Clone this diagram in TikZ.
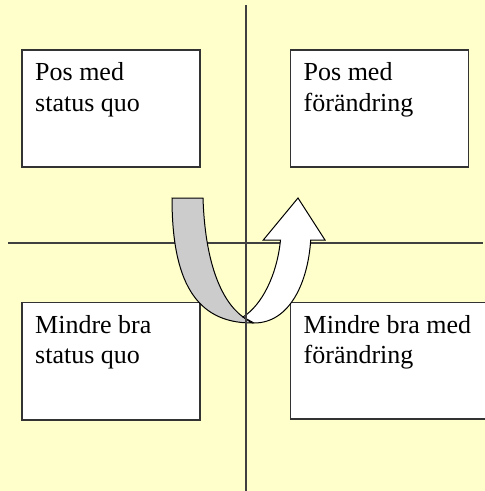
\documentclass[tikz,border=0pt]{standalone}
\usepackage{fontspec}
\setmainfont{Liberation Serif}
\begin{document}
\begin{tikzpicture}[x=1pt,y=-1pt,
  axis/.style={draw=black!75, line width=1.2pt},
  quad/.style={draw=black!80, fill=white, line width=1.2pt},
  lbl/.style={anchor=base west, inner sep=0pt, align=left, font=\rmfamily\fontsize{26}{30.5}\selectfont},
  band/.style={draw=black, line width=1pt, line join=miter}]
\useasboundingbox (0,0) rectangle (485,491);
\clip (0,0) rectangle (485,491);
\fill[fill={rgb,255:red,255;green,255;blue,204}] (0,0) rectangle (485,491);
% horizontal axis (beneath the arrow)
\coordinate (hl) at (8,243);
\coordinate (hr) at (483,243);
\draw[axis] (hl) -- (hr);
% quadrant boxes
\draw[quad] (22,50) rectangle (200,167);
\coordinate (b1) at (22,50);
\draw[quad] (290.7,50) rectangle (468.3,167);
\coordinate (b2) at (290.7,50);
\draw[quad] (22,302.7) rectangle (200,420);
\coordinate (b3) at (22,302.7);
\draw[quad] (290.7,302.7) rectangle (520,419);
\coordinate (b4) at (290.7,302.7);
\node[lbl] (t1) at (35,111.2) {Pos med\\status quo};
\node[lbl] (t2) at (303.5,111.2) {Pos med\\förändring};
\node[lbl] (t3) at (35,363.8) {Mindre bra\\status quo};
\node[lbl] (t4) at (303.5,363.8) {Mindre bra med\\förändring};
% U-turn arrow: gray back part
\draw[band, fill={rgb,255:red,204;green,204;blue,204}]
  (172,198) -- (203,198)
  .. controls (205,260) and (220,300) .. (243,317)
  -- (252,323)
  .. controls (195,323) and (172,280) .. (172,198) -- cycle;
% white front part with head
\draw[band, fill=white]
  (243,317)
  .. controls (262,305) and (277,275) .. (280.5,240)
  -- (263.3,240) -- (298,198) -- (325,240) -- (310.7,240)
  .. controls (308,282) and (290,323) .. (254,323)
  -- cycle;
% vertical axis (over the arrow)
\coordinate (vt) at (246,5);
\coordinate (vb) at (246,491);
\draw[axis] (vt) -- (vb);
\end{tikzpicture}
\end{document}
